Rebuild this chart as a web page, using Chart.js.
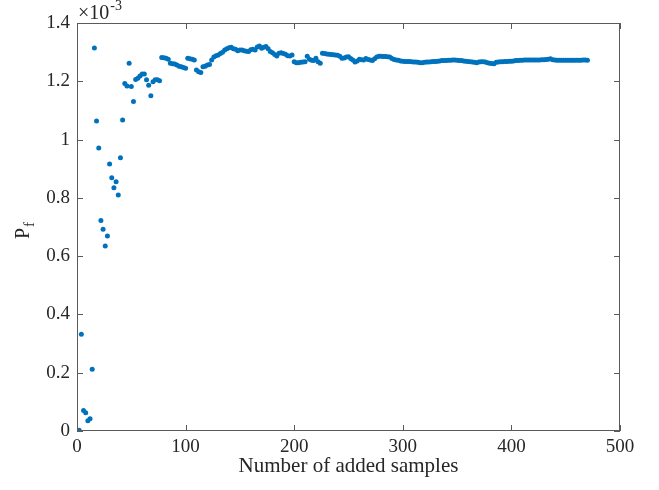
<!DOCTYPE html>
<html>
<head>
<meta charset="utf-8">
<script src="https://cdn.jsdelivr.net/npm/chart.js@4"></script>
<style>
    html, body { margin: 0; padding: 0; background: #ffffff; }
    #wrap { width: 659px; height: 490px; }
</style>
</head>
<body>
<div id="wrap"><canvas id="pfChart" width="659" height="490"></canvas></div>
<script>
    // number of added samples (x) and failure probability estimate in units of 1e-3 (y)
    const addedSamples = [
        2, 4, 6, 8, 10, 12, 14, 16, 18, 20, 22, 24, 26, 28, 30, 32, 34, 36, 38, 40,
        42, 44, 46, 48, 50, 52, 54, 56, 58, 60, 62, 64, 66, 68, 70, 72, 74, 76, 78, 80,
        82, 84, 86, 88, 90, 92, 94, 96, 98, 100, 102, 104, 106, 108, 110, 112, 114, 116, 118, 120,
        122, 124, 126, 128, 130, 132, 134, 136, 138, 140, 142, 144, 146, 148, 150, 152, 154, 156, 158, 160,
        162, 164, 166, 168, 170, 172, 174, 176, 178, 180, 182, 184, 186, 188, 190, 192, 194, 196, 198, 200,
        202, 204, 206, 208, 210, 212, 214, 216, 218, 220, 222, 224, 226, 228, 230, 232, 234, 236, 238, 240,
        242, 244, 246, 248, 250, 252, 254, 256, 258, 260, 262, 264, 266, 268, 270, 272, 274, 276, 278, 280,
        282, 284, 286, 288, 290, 292, 294, 296, 298, 300, 302, 304, 306, 308, 310, 312, 314, 316, 318, 320,
        322, 324, 326, 328, 330, 332, 334, 336, 338, 340, 342, 344, 346, 348, 350, 352, 354, 356, 358, 360,
        362, 364, 366, 368, 370, 372, 374, 376, 378, 380, 382, 384, 386, 388, 390, 392, 394, 396, 398, 400,
        402, 404, 406, 408, 410, 412, 414, 416, 418, 420, 422, 424, 426, 428, 430, 432, 434, 436, 438, 440,
        442, 444, 446, 448, 450, 452, 454, 456, 458, 460, 462, 464, 466, 468, 470
    ];

    const pfValues = [
        0.003, 0.332, 0.070, 0.063, 0.035, 0.042, 0.212, 1.314, 1.064, 0.971,
        0.722, 0.692, 0.635, 0.669, 0.916, 0.869, 0.835, 0.855, 0.810, 0.938,
        1.067, 1.192, 1.184, 1.262, 1.182, 1.131, 1.206, 1.210, 1.218, 1.225,
        1.225, 1.205, 1.186, 1.150, 1.198, 1.205, 1.205, 1.202, 1.282, 1.281,
        1.279, 1.276, 1.262, 1.260, 1.259, 1.256, 1.252, 1.250, 1.247, 1.245,
        1.279, 1.277, 1.276, 1.273, 1.239, 1.233, 1.230, 1.250, 1.252, 1.256,
        1.258, 1.273, 1.283, 1.288, 1.290, 1.295, 1.300, 1.307, 1.312, 1.315,
        1.317, 1.312, 1.310, 1.305, 1.307, 1.307, 1.305, 1.303, 1.302, 1.308,
        1.310, 1.307, 1.318, 1.321, 1.313, 1.317, 1.319, 1.312, 1.302, 1.298,
        1.292, 1.287, 1.296, 1.298, 1.295, 1.293, 1.288, 1.287, 1.290, 1.267,
        1.264, 1.264, 1.265, 1.266, 1.267, 1.286, 1.276, 1.272, 1.271, 1.279,
        1.267, 1.262, 1.296, 1.295, 1.294, 1.293, 1.292, 1.291, 1.290, 1.289,
        1.286, 1.279, 1.280, 1.283, 1.284, 1.278, 1.273, 1.266, 1.270, 1.276,
        1.274, 1.273, 1.278, 1.275, 1.273, 1.271, 1.277, 1.283, 1.286, 1.286,
        1.285, 1.285, 1.284, 1.283, 1.278, 1.275, 1.273, 1.272, 1.270, 1.269,
        1.268, 1.268, 1.268, 1.267, 1.266, 1.266, 1.265, 1.264, 1.264, 1.265,
        1.266, 1.266, 1.267, 1.268, 1.268, 1.269, 1.270, 1.271, 1.271, 1.271,
        1.272, 1.272, 1.273, 1.273, 1.272, 1.271, 1.271, 1.270, 1.269, 1.268,
        1.267, 1.266, 1.265, 1.264, 1.266, 1.267, 1.267, 1.266, 1.264, 1.262,
        1.261, 1.260, 1.265, 1.266, 1.267, 1.267, 1.268, 1.268, 1.269, 1.269,
        1.270, 1.271, 1.271, 1.272, 1.272, 1.273, 1.273, 1.273, 1.273, 1.273,
        1.273, 1.273, 1.273, 1.274, 1.274, 1.275, 1.276, 1.277, 1.274, 1.273,
        1.272, 1.272, 1.272, 1.272, 1.272, 1.272, 1.272, 1.272, 1.272, 1.272,
        1.272, 1.272, 1.273, 1.273, 1.272
    ];

    const xTicks = [0, 100, 200, 300, 400, 500];
    const yTicks = [0, 0.2, 0.4, 0.6, 0.8, 1, 1.2, 1.4];
    const yTickLabels = ["0", "0.2", "0.4", "0.6", "0.8", "1", "1.2", "1.4"];

    const serif = "'Liberation Serif', 'Times New Roman', serif";
    const axisColor = "#5a5a5a";
    const textColor = "#262626";

    // box round the axes and MATLAB-style inward ticks on all four sides
    const boxPlugin = {
        id: "matlabBox",
        afterDatasetsDraw: function (chart) {
            const ctx = chart.ctx;
            const area = chart.chartArea;
            const xs = chart.scales.x;
            const ys = chart.scales.y;
            const len = 6;

            ctx.save();
            ctx.strokeStyle = axisColor;
            ctx.lineWidth = 1;
            ctx.strokeRect(area.left + 0.5, area.top + 0.5, area.right - area.left - 1, area.bottom - area.top - 1);

            ctx.beginPath();
            xTicks.forEach(function (v) {
                const px = Math.round(xs.getPixelForValue(v)) + 0.5;
                ctx.moveTo(px, area.bottom);
                ctx.lineTo(px, area.bottom - len);
                ctx.moveTo(px, area.top);
                ctx.lineTo(px, area.top + len);
            });
            yTicks.forEach(function (v) {
                const py = Math.round(ys.getPixelForValue(v)) + 0.5;
                ctx.moveTo(area.left, py);
                ctx.lineTo(area.left + len, py);
                ctx.moveTo(area.right, py);
                ctx.lineTo(area.right - len, py);
            });
            ctx.stroke();

            // exponent above the y axis
            ctx.fillStyle = textColor;
            ctx.textBaseline = "alphabetic";
            ctx.textAlign = "left";
            ctx.font = "20px " + serif;
            ctx.fillText("\u00d710", area.left + 1, 19);
            const w = ctx.measureText("\u00d710").width;
            ctx.font = "14px " + serif;
            ctx.fillText("-3", area.left + 1 + w + 1, 10);

            // y axis label P_f
            ctx.translate(29, (area.top + area.bottom) / 2 + 12);
            ctx.rotate(-Math.PI / 2);
            ctx.font = "20px " + serif;
            ctx.fillText("P", 0, 0);
            const pw = ctx.measureText("P").width;
            ctx.font = "15px " + serif;
            ctx.fillText("f", pw + 1, 5);
            ctx.restore();
        }
    };

    new Chart(document.getElementById("pfChart").getContext("2d"), {
        type: "scatter",
        data: {
            datasets: [{
                label: "Pf",
                data: addedSamples.map(function (n, i) {
                    return { x: n, y: pfValues[i] };
                }),
                backgroundColor: "#0072BD",
                borderColor: "#0072BD",
                borderWidth: 0,
                pointRadius: 2.5,
                pointHoverRadius: 2.5
            }]
        },
        options: {
            responsive: false,
            animation: false,
            layout: {
                padding: { top: 23, right: 39, bottom: 11, left: 0 }
            },
            plugins: {
                legend: { display: false },
                tooltip: { enabled: false }
            },
            scales: {
                x: {
                    type: "linear",
                    min: 0,
                    max: 500,
                    afterFit: function (scale) { scale.height = 48; },
                    afterBuildTicks: function (scale) {
                        scale.ticks = xTicks.map(function (v) { return { value: v }; });
                    },
                    grid: { display: false, drawTicks: false },
                    border: { display: false },
                    ticks: {
                        padding: 5,
                        color: textColor,
                        font: { family: serif, size: 19 },
                        maxRotation: 0
                    },
                    title: {
                        display: true,
                        text: "Number of added samples",
                        color: textColor,
                        font: { family: serif, size: 21 },
                        padding: { top: 0, bottom: 0 }
                    }
                },
                y: {
                    type: "linear",
                    min: 0,
                    max: 1.4,
                    afterFit: function (scale) { scale.width = 77; },
                    afterBuildTicks: function (scale) {
                        scale.ticks = yTicks.map(function (v) { return { value: v }; });
                    },
                    grid: { display: false, drawTicks: false },
                    border: { display: false },
                    ticks: {
                        padding: 7,
                        color: textColor,
                        font: { family: serif, size: 19 },
                        callback: function (value, index) {
                            return yTickLabels[index];
                        }
                    }
                }
            }
        },
        plugins: [boxPlugin]
    });
</script>
</body>
</html>
